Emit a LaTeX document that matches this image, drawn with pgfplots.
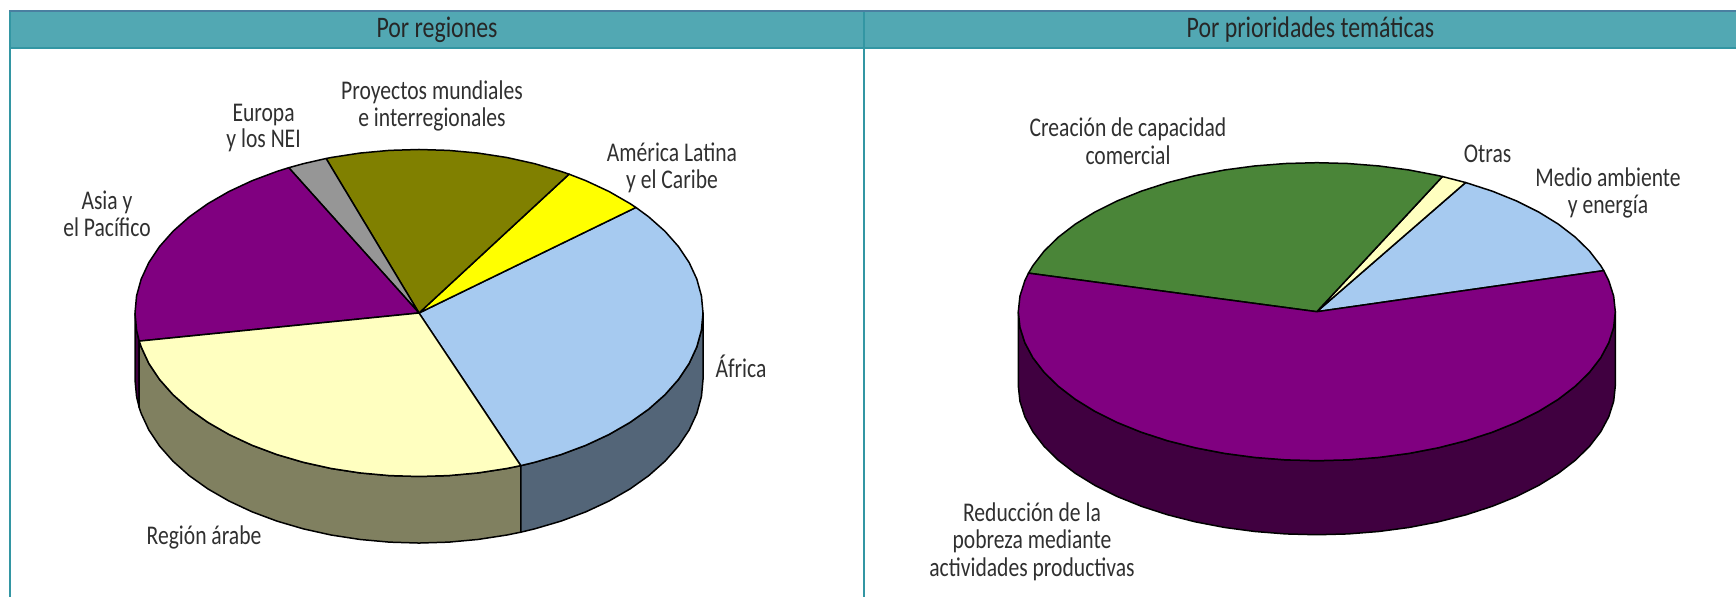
\documentclass[border=0pt]{standalone}
\usepackage{pgfplots}
\pgfplotsset{compat=1.18}
\usepackage{fontspec}
\setmainfont[FakeStretch=0.8]{Carlito}
\definecolor{hdr}{HTML}{52A8B3}
\definecolor{hdrtop}{HTML}{4A7FA0}
\definecolor{frm}{HTML}{3396A3}
\definecolor{lblue}{HTML}{A6CAF0}
\definecolor{lbluew}{HTML}{536578}
\definecolor{lyel}{HTML}{FFFFC0}
\definecolor{lyelw}{HTML}{808060}
\definecolor{pur}{HTML}{800080}
\definecolor{purw}{HTML}{400040}
\definecolor{oli}{HTML}{808000}
\definecolor{gry}{HTML}{969696}
\definecolor{yel}{HTML}{FFFF00}
\definecolor{grn}{HTML}{4A8538}
\definecolor{lab}{HTML}{303030}
\def\LX{419+284*\thisrow{x}}
\def\LY{313-163.5*\thisrow{y}}
\def\LW{313-163.5*(\thisrow{y}-0.407*\thisrow{lo})}
\def\RX{1316.8+298.5*\thisrow{x}}
\def\RY{311.7-149*\thisrow{y}}
\def\RW{311.7-149*(\thisrow{y}-0.497*\thisrow{lo})}
\newcommand{\lab}[3]{\node[anchor=base,inner sep=0pt,text=lab,font=\fontsize{13.5}{15}\selectfont] at (axis cs:#1,#2) {#3};}
\newcommand{\ttl}[3]{\node[anchor=base,inner sep=0pt,text=black!85,font=\fontsize{14.9}{16}\selectfont] at (axis cs:#1,#2) {#3};}
\begin{document}
\begin{tikzpicture}
\path[use as bounding box] (0,0) rectangle (868pt,298.5pt);
\begin{axis}[at={(0,0)},anchor=south west,scale only axis,width=868pt,height=298.5pt,
  xmin=0,xmax=1736,ymin=0,ymax=597,y dir=reverse,hide axis,clip=false,
  every axis plot/.append style={line width=0.75pt,line join=round,draw=black}]
% frame
\fill[hdr] (axis cs:9,10) rectangle (axis cs:1736,49);
\fill[hdrtop] (axis cs:9,10) rectangle (axis cs:1736,12);
\fill[frm] (axis cs:9,47) rectangle (axis cs:1736,49);
\fill[frm] (axis cs:9,12) rectangle (axis cs:11,597);
\fill[frm] (axis cs:863,12) rectangle (axis cs:865,597);
% left pie walls
\addplot[fill=purw] table[x expr=\LX,y expr=\LW] {
x y lo
-1 0 0
-.9945 -.1045 0
-.9851 -.1719 0
-.9851 -.1719 1
-.9945 -.1045 1
-1 0 1
-1 0 0
};
\addplot[fill=lyelw] table[x expr=\LX,y expr=\LW] {
x y lo
-.9851 -.1719 0
-.9781 -.2079 0
-.9511 -.3090 0
-.9135 -.4067 0
-.8660 -.5 0
-.8090 -.5878 0
-.7431 -.6691 0
-.6691 -.7431 0
-.5878 -.8090 0
-.5 -.8660 0
-.4067 -.9135 0
-.3090 -.9511 0
-.2079 -.9781 0
-.1045 -.9945 0
0 -1 0
.1045 -.9945 0
.2079 -.9781 0
.3090 -.9511 0
.3584 -.9336 0
.3584 -.9336 1
.3090 -.9511 1
.2079 -.9781 1
.1045 -.9945 1
0 -1 1
-.1045 -.9945 1
-.2079 -.9781 1
-.3090 -.9511 1
-.4067 -.9135 1
-.5 -.8660 1
-.5878 -.8090 1
-.6691 -.7431 1
-.7431 -.6691 1
-.8090 -.5878 1
-.8660 -.5 1
-.9135 -.4067 1
-.9511 -.3090 1
-.9781 -.2079 1
-.9851 -.1719 1
-.9851 -.1719 0
};
\addplot[fill=lbluew] table[x expr=\LX,y expr=\LW] {
x y lo
.3584 -.9336 0
.4067 -.9135 0
.5 -.8660 0
.5878 -.8090 0
.6691 -.7431 0
.7431 -.6691 0
.8090 -.5878 0
.8660 -.5 0
.9135 -.4067 0
.9511 -.3090 0
.9781 -.2079 0
.9945 -.1045 0
1 0 0
1 0 1
.9945 -.1045 1
.9781 -.2079 1
.9511 -.3090 1
.9135 -.4067 1
.8660 -.5 1
.8090 -.5878 1
.7431 -.6691 1
.6691 -.7431 1
.5878 -.8090 1
.5 -.8660 1
.4067 -.9135 1
.3584 -.9336 1
.3584 -.9336 0
};
% left pie top
\addplot[fill=lblue] table[x expr=\LX,y expr=\LY] {
x y
0 0
.3584 -.9336
.4067 -.9135
.5 -.8660
.5878 -.8090
.6691 -.7431
.7431 -.6691
.8090 -.5878
.8660 -.5
.9135 -.4067
.9511 -.3090
.9781 -.2079
.9945 -.1045
1 0
.9945 .1045
.9781 .2079
.9511 .3090
.9135 .4067
.8660 .5
.8090 .5878
.7638 .6455
0 0
};
\addplot[fill=yel] table[x expr=\LX,y expr=\LY] {
x y
0 0
.7638 .6455
.7431 .6691
.6691 .7431
.5878 .8090
.5284 .8490
0 0
};
\addplot[fill=oli] table[x expr=\LX,y expr=\LY] {
x y
0 0
.5284 .8490
.5 .8660
.4067 .9135
.3090 .9511
.2079 .9781
.1045 .9945
0 1
-.1045 .9945
-.2079 .9781
-.3090 .9511
-.3272 .9449
0 0
};
\addplot[fill=gry] table[x expr=\LX,y expr=\LY] {
x y
0 0
-.3272 .9449
-.4067 .9135
-.4586 .8886
0 0
};
\addplot[fill=pur] table[x expr=\LX,y expr=\LY] {
x y
0 0
-.4586 .8886
-.5 .8660
-.5878 .8090
-.6691 .7431
-.7431 .6691
-.8090 .5878
-.8660 .5
-.9135 .4067
-.9511 .3090
-.9781 .2079
-.9945 .1045
-1 0
-.9945 -.1045
-.9851 -.1719
0 0
};
\addplot[fill=lyel] table[x expr=\LX,y expr=\LY] {
x y
0 0
-.9851 -.1719
-.9781 -.2079
-.9511 -.3090
-.9135 -.4067
-.8660 -.5
-.8090 -.5878
-.7431 -.6691
-.6691 -.7431
-.5878 -.8090
-.5 -.8660
-.4067 -.9135
-.3090 -.9511
-.2079 -.9781
-.1045 -.9945
0 -1
.1045 -.9945
.2079 -.9781
.3090 -.9511
.3584 -.9336
0 0
};
% right pie wall
\addplot[fill=purw] table[x expr=\RX,y expr=\RW] {
x y lo
-1 0 0
-.9945 -.1045 0
-.9781 -.2079 0
-.9511 -.3090 0
-.9135 -.4067 0
-.8660 -.5 0
-.8090 -.5878 0
-.7431 -.6691 0
-.6691 -.7431 0
-.5878 -.8090 0
-.5 -.8660 0
-.4067 -.9135 0
-.3090 -.9511 0
-.2079 -.9781 0
-.1045 -.9945 0
0 -1 0
.1045 -.9945 0
.2079 -.9781 0
.3090 -.9511 0
.4067 -.9135 0
.5 -.8660 0
.5878 -.8090 0
.6691 -.7431 0
.7431 -.6691 0
.8090 -.5878 0
.8660 -.5 0
.9135 -.4067 0
.9511 -.3090 0
.9781 -.2079 0
.9945 -.1045 0
1 0 0
1 0 1
.9945 -.1045 1
.9781 -.2079 1
.9511 -.3090 1
.9135 -.4067 1
.8660 -.5 1
.8090 -.5878 1
.7431 -.6691 1
.6691 -.7431 1
.5878 -.8090 1
.5 -.8660 1
.4067 -.9135 1
.3090 -.9511 1
.2079 -.9781 1
.1045 -.9945 1
0 -1 1
-.1045 -.9945 1
-.2079 -.9781 1
-.3090 -.9511 1
-.4067 -.9135 1
-.5 -.8660 1
-.5878 -.8090 1
-.6691 -.7431 1
-.7431 -.6691 1
-.8090 -.5878 1
-.8660 -.5 1
-.9135 -.4067 1
-.9511 -.3090 1
-.9781 -.2079 1
-.9945 -.1045 1
-1 0 1
-1 0 0
};
% right pie top
\addplot[fill=lblue] table[x expr=\RX,y expr=\RY] {
x y
0 0
.9613 .2756
.9511 .3090
.9135 .4067
.8660 .5
.8090 .5878
.7431 .6691
.6691 .7431
.5878 .8090
.4985 .8669
0 0
};
\addplot[fill=lyel] table[x expr=\RX,y expr=\RY] {
x y
0 0
.4985 .8669
.4210 .9070
0 0
};
\addplot[fill=grn] table[x expr=\RX,y expr=\RY] {
x y
0 0
.4210 .9070
.4067 .9135
.3090 .9511
.2079 .9781
.1045 .9945
0 1
-.1045 .9945
-.2079 .9781
-.3090 .9511
-.4067 .9135
-.5 .8660
-.5878 .8090
-.6691 .7431
-.7431 .6691
-.8090 .5878
-.8660 .5
-.9135 .4067
-.9511 .3090
-.9659 .2588
0 0
};
\addplot[fill=pur] table[x expr=\RX,y expr=\RY] {
x y
0 0
-.9659 .2588
-.9781 .2079
-.9945 .1045
-1 0
-.9945 -.1045
-.9781 -.2079
-.9511 -.3090
-.9135 -.4067
-.8660 -.5
-.8090 -.5878
-.7431 -.6691
-.6691 -.7431
-.5878 -.8090
-.5 -.8660
-.4067 -.9135
-.3090 -.9511
-.2079 -.9781
-.1045 -.9945
0 -1
.1045 -.9945
.2079 -.9781
.3090 -.9511
.4067 -.9135
.5 -.8660
.5878 -.8090
.6691 -.7431
.7431 -.6691
.8090 -.5878
.8660 -.5
.9135 -.4067
.9511 -.3090
.9781 -.2079
.9945 -.1045
1 0
.9945 .1045
.9781 .2079
.9613 .2756
0 0
};
% texts
\ttl{437}{38}{Por regiones}
\ttl{1310.5}{38}{Por prioridades temáticas}
\lab{432}{100}{Proyectos mundiales}
\lab{432}{127}{e interregionales}
\lab{263.6}{122}{Europa}
\lab{263.6}{148}{y los NEI}
\lab{672}{162}{América Latina}
\lab{672}{189}{y el Caribe}
\lab{107}{210}{Asia y}
\lab{107}{237}{el Pacífico}
\lab{741}{378}{África}
\lab{204}{545}{Región árabe}
\lab{1128}{137}{Creación de capacidad}
\lab{1128}{165}{comercial}
\lab{1487.6}{163}{Otras}
\lab{1608}{187}{Medio ambiente}
\lab{1608}{214}{y energía}
\lab{1032}{522}{Reducción de la}
\lab{1032}{549}{pobreza mediante}
\lab{1032}{577}{actividades productivas}
\end{axis}
\end{tikzpicture}
\end{document}
